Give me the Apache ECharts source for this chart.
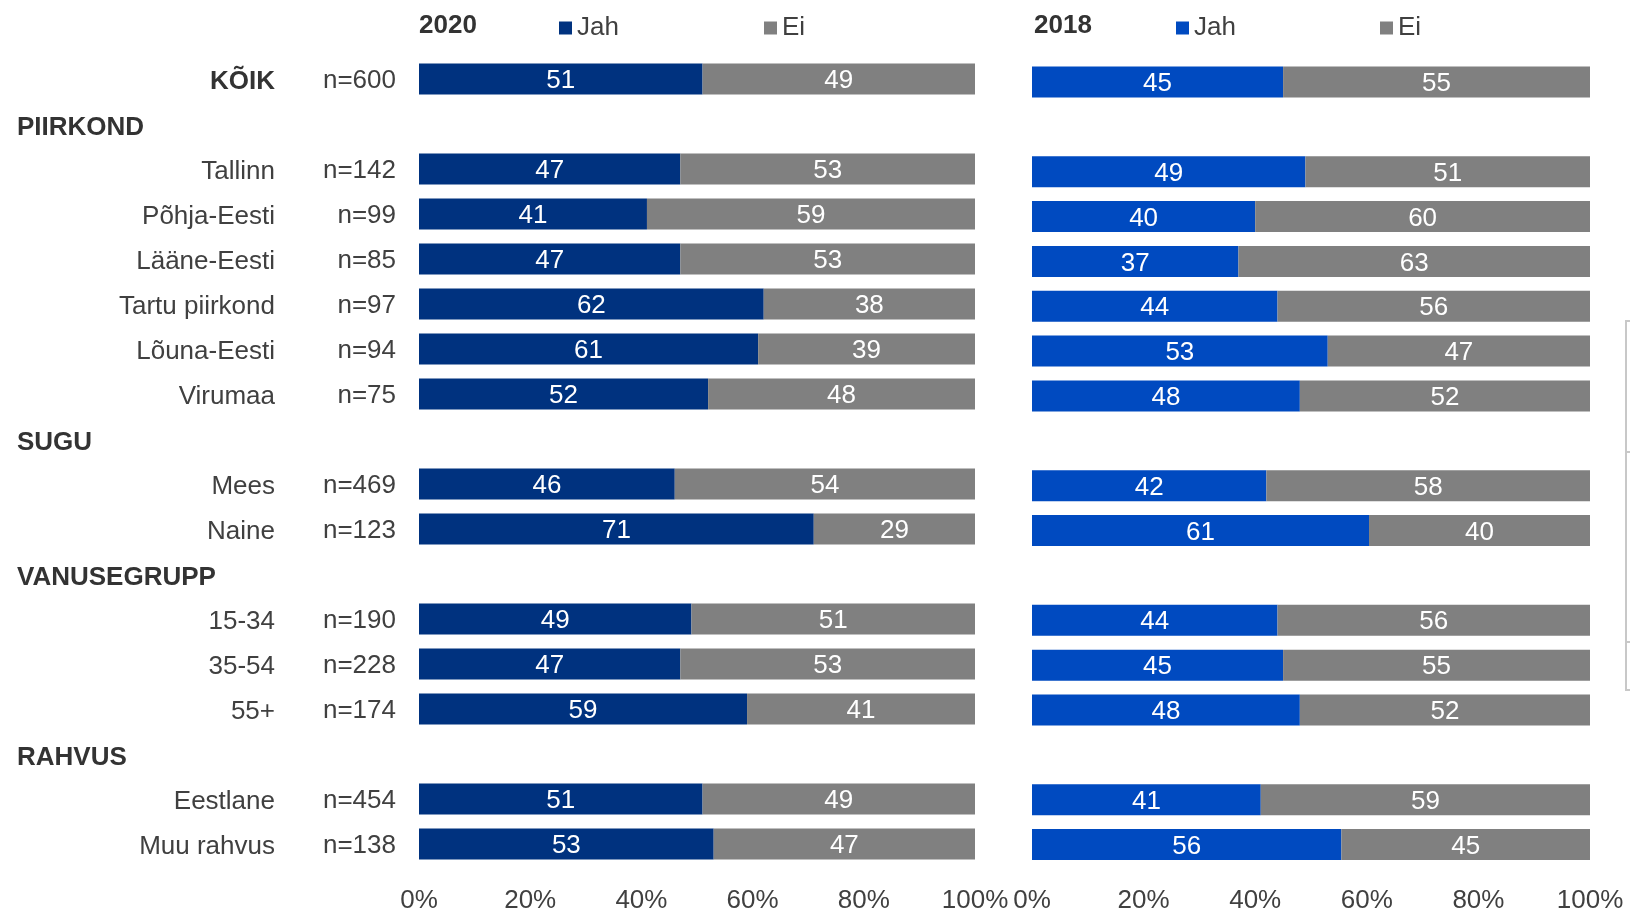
<!DOCTYPE html>
<html>
<head>
<meta charset="utf-8">
<script src="https://cdn.jsdelivr.net/npm/echarts@6/dist/echarts.min.js"></script>
<style>
	html, body { margin: 0; padding: 0; background: #fff; }
	#chart { width: 1630px; height: 914px; }
</style>
</head>
<body>
<div id="chart"></div>
<script>
// rows, top to bottom (group headers have no bars)
const categories = ['KÕIK', 'PIIRKOND', 'Tallinn', 'Põhja-Eesti', 'Lääne-Eesti', 'Tartu piirkond', 'Lõuna-Eesti', 'Virumaa', 'SUGU', 'Mees', 'Naine', 'VANUSEGRUPP', '15-34', '35-54', '55+', 'RAHVUS', 'Eestlane', 'Muu rahvus']
const headers = ['PIIRKOND', 'SUGU', 'VANUSEGRUPP', 'RAHVUS']
const sampleSizes = ['n=600', '', 'n=142', 'n=99', 'n=85', 'n=97', 'n=94', 'n=75', '', 'n=469', 'n=123', '', 'n=190', 'n=228', 'n=174', '', 'n=454', 'n=138']

const jah2020 = [51, null, 47, 41, 47, 62, 61, 52, null, 46, 71, null, 49, 47, 59, null, 51, 53]
const ei2020 = [49, null, 53, 59, 53, 38, 39, 48, null, 54, 29, null, 51, 53, 41, null, 49, 47]
const jah2018 = [45, null, 49, 40, 37, 44, 53, 48, null, 42, 61, null, 44, 45, 48, null, 41, 56]
const ei2018 = [55, null, 51, 60, 63, 56, 47, 52, null, 58, 40, null, 56, 55, 52, null, 59, 45]

const font = 'Liberation Sans, Arial, sans-serif'
const fs = 26
const textColor = '#404040'
const navy = '#00327f'
const blue = '#004ac0'
const grey = '#808080'

// 100% stacked: bar length is the share of the row total, label shows the read value
const share = (a, b) => a.map((v, i) => (v == null ? null : (v / (v + b[i])) * 100))

const myChart = echarts.init(document.getElementById('chart'))

const catAxis = (gridIndex, extra) => ({
	type: 'category',
	gridIndex: gridIndex,
	position: 'left',
	offset: 0,
	data: categories,
	inverse: true,
	axisLine: { show: false },
	axisTick: { show: false },
	axisLabel: { show: false },
	...extra,
})

const valAxis = (gridIndex) => ({
	type: 'value',
	gridIndex: gridIndex,
	min: 0,
	max: 100,
	interval: 20,
	splitLine: { show: false },
	axisLine: { show: false },
	axisTick: { show: false },
	axisLabel: {
		formatter: (v) => v + '%',
		color: textColor,
		fontSize: fs,
		fontFamily: font,
		margin: 21,
	},
})

const barSeries = (name, gridIdx, raw, other, color, stack) => ({
	name: name,
	type: 'bar',
	stack: stack,
	xAxisIndex: gridIdx,
	yAxisIndex: gridIdx === 0 ? 0 : 3,
	barWidth: 31,
	data: share(raw, other),
	itemStyle: { color: color },
	label: {
		show: true,
		position: 'inside',
		offset: [0, 2],
		color: '#fff',
		fontSize: fs,
		fontFamily: font,
		formatter: (p) => raw[p.dataIndex],
	},
})

const legendItem = (left, name, color) => ({
	left: left,
	top: 10,
	itemWidth: 13,
	itemHeight: 13,
	itemGap: 0,
	icon: 'rect',
	textStyle: { color: textColor, fontSize: fs, fontFamily: font },
	data: [{ name: name, itemStyle: { color: color } }],
	selectedMode: false,
})

const options = {
	animation: false,
	textStyle: { fontFamily: font },
	title: [
		{ text: '2020', left: 414, top: 8, textStyle: { fontSize: fs, fontWeight: 'bold', color: '#333', fontFamily: font } },
		{ text: '2018', left: 1029, top: 8, textStyle: { fontSize: fs, fontWeight: 'bold', color: '#333', fontFamily: font } },
	],
	legend: [
		legendItem(554, 'Jah', navy),
		legendItem(759, 'Ei', grey),
		legendItem(1171, 'Jah', blue),
		legendItem(1375, 'Ei', grey),
	],
	grid: [
		{ left: 419, width: 556, top: 56.5, height: 810 },
		{ left: 1032, width: 558, top: 59.5, height: 810 },
	],
	xAxis: [valAxis(0), valAxis(1)],
	yAxis: [
		// category names, right aligned
		catAxis(0, {
			axisLabel: {
				show: true,
				margin: 144,
				color: textColor,
				fontSize: fs,
				fontFamily: font,
				padding: [5, 0, 0, 0],
				formatter: (v) => (headers.includes(v) ? '' : v === 'KÕIK' ? '{b|' + v + '}' : v),
				rich: { b: { fontWeight: 'bold', fontSize: fs, fontFamily: font, color: '#333' } },
			},
		}),
		// sample sizes
		catAxis(0, {
			axisLabel: {
				show: true,
				margin: 23,
				color: textColor,
				fontSize: fs,
				fontFamily: font,
				verticalAlign: 'top',
				lineHeight: 4,
				formatter: (v, i) => sampleSizes[i],
			},
		}),
		// group headers, left aligned
		catAxis(0, {
			axisLabel: {
				show: true,
				margin: 402,
				align: 'left',
				color: '#333',
				fontSize: fs,
				fontWeight: 'bold',
				fontFamily: font,
				verticalAlign: 'top',
				lineHeight: 8,
				formatter: (v) => (headers.includes(v) ? v : ''),
			},
		}),
		catAxis(1),
	],
	series: [
		barSeries('Jah', 0, jah2020, ei2020, navy, 'y2020'),
		barSeries('Ei', 0, ei2020, jah2020, grey, 'y2020'),
		barSeries('Jah', 1, jah2018, ei2018, blue, 'y2018'),
		barSeries('Ei', 1, ei2018, jah2018, grey, 'y2018'),
	],
	graphic: [
		// clipped frame at the right edge of the source image
		{ type: 'polyline', shape: { points: [[1630, 321], [1626, 321], [1626, 690], [1630, 690]] }, style: { stroke: '#c8c8c8', lineWidth: 2, fill: null } },
		{ type: 'line', shape: { x1: 1626, y1: 452, x2: 1630, y2: 452 }, style: { stroke: '#c8c8c8', lineWidth: 2 } },
		{ type: 'line', shape: { x1: 1626, y1: 642, x2: 1630, y2: 642 }, style: { stroke: '#c8c8c8', lineWidth: 2 } },
	],
}

myChart.setOption(options)
</script>
</body>
</html>
